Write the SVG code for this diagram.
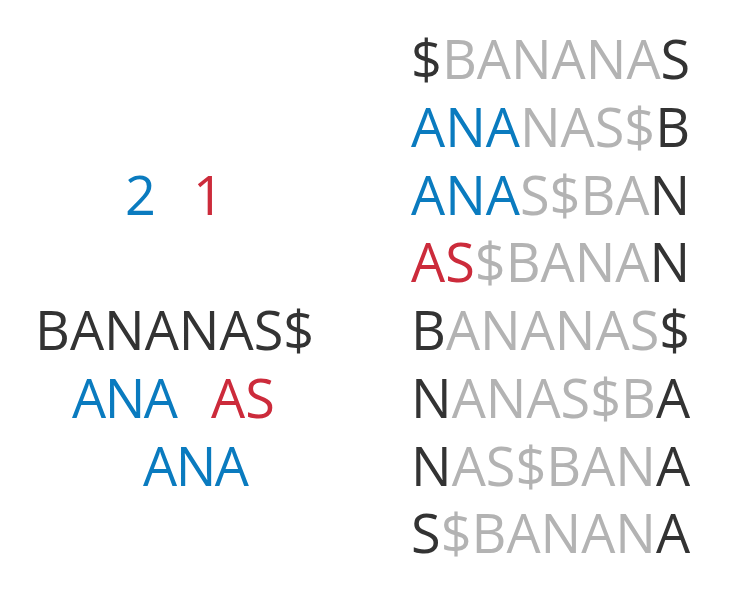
<svg xmlns="http://www.w3.org/2000/svg" width="743" height="600" viewBox="0 0 743 600">
<style>
text{font-family:"Open Sans","Noto Sans",sans-serif;font-size:54px;fill:#333333}
.g{fill:#b3b3b3}
.b{fill:#0a7bbf}
.r{fill:#cc2b3b}
.d{fill:#333333}
.t{letter-spacing:-1.5px}
</style>
<rect width="743" height="600" fill="#ffffff"/>
<g id="left">
<text x="125" y="215" class="b">2</text>
<text x="193" y="215" class="r">1</text>
<text x="35" y="350">BANANAS$</text>
<text x="72" y="418" class="b t">ANA</text>
<text x="211" y="418" class="r">AS</text>
<text x="143" y="486" class="b t">ANA</text>
</g>
<g id="rotations">
<text x="411" y="79"><tspan class="d">$</tspan><tspan class="g">BANANA</tspan><tspan class="d">S</tspan></text>
<text x="411" y="147"><tspan class="b">ANA</tspan><tspan class="g">NAS$</tspan><tspan class="d">B</tspan></text>
<text x="411" y="215"><tspan class="b">ANA</tspan><tspan class="g">S$BA</tspan><tspan class="d">N</tspan></text>
<text x="411" y="282"><tspan class="r">AS</tspan><tspan class="g">$BANA</tspan><tspan class="d">N</tspan></text>
<text x="411" y="350"><tspan class="d">B</tspan><tspan class="g">ANANAS</tspan><tspan class="d">$</tspan></text>
<text x="411" y="418"><tspan class="d">N</tspan><tspan class="g">ANAS$B</tspan><tspan class="d">A</tspan></text>
<text x="411" y="486"><tspan class="d">N</tspan><tspan class="g">AS$BAN</tspan><tspan class="d">A</tspan></text>
<text x="411" y="553"><tspan class="d">S</tspan><tspan class="g">$BANAN</tspan><tspan class="d">A</tspan></text>
</g>
</svg>
